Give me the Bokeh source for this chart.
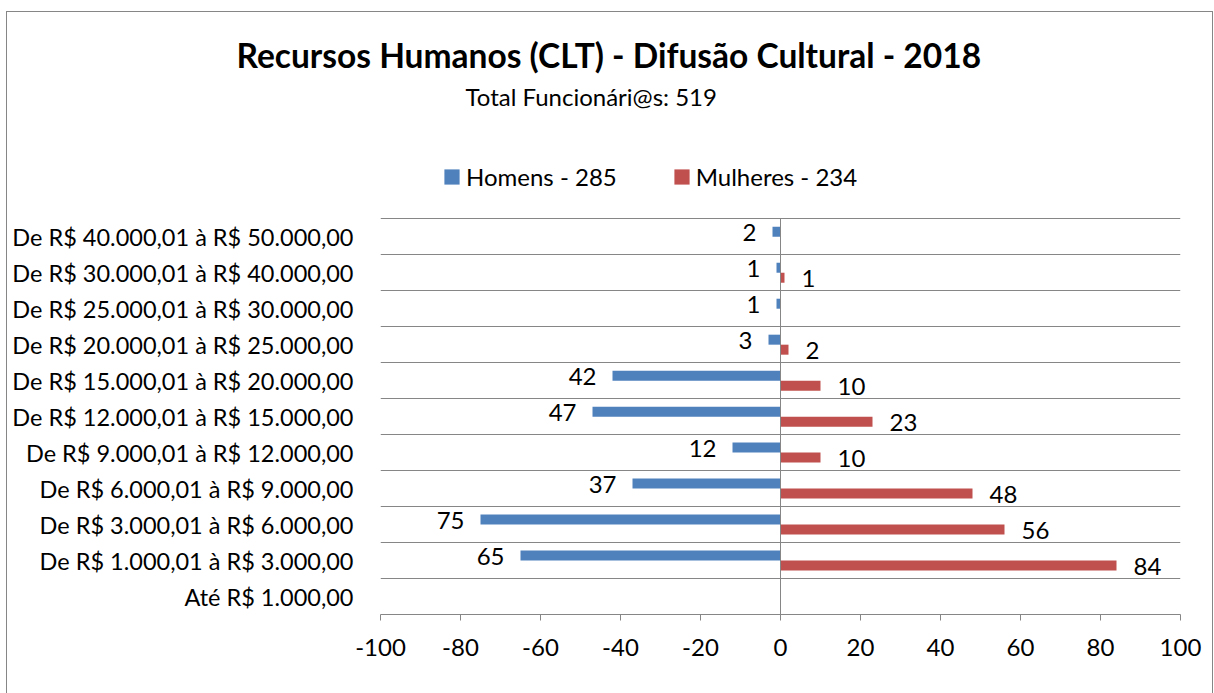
from bokeh.plotting import figure
from bokeh.models import (ColumnDataSource, Range1d, FixedTicker, LabelSet, Label, Title,
                          Legend, LegendItem)
from bokeh.transform import dodge
from bokeh.core.properties import value
from bokeh.embed import file_html
from bokeh.resources import INLINE

# ---------------- data ----------------
title_text = "Recursos Humanos (CLT) - Difusão Cultural - 2018"
subtitle_text = "Total Funcionári@s: 519"
categories = [
    "Até R$ 1.000,00",
    "De R$ 1.000,01 à R$ 3.000,00",
    "De R$ 3.000,01 à R$ 6.000,00",
    "De R$ 6.000,01 à R$ 9.000,00",
    "De R$ 9.000,01 à R$ 12.000,00",
    "De R$ 12.000,01 à R$ 15.000,00",
    "De R$ 15.000,01 à R$ 20.000,00",
    "De R$ 20.000,01 à R$ 25.000,00",
    "De R$ 25.000,01 à R$ 30.000,00",
    "De R$ 30.000,01 à R$ 40.000,00",
    "De R$ 40.000,01 à R$ 50.000,00",
]
homens = [0, 65, 75, 37, 12, 47, 42, 3, 1, 1, 2]
mulheres = [0, 84, 56, 48, 10, 23, 10, 2, 0, 1, 0]
series_names = ["Homens - 285", "Mulheres - 234"]
x_ticks = [-100, -80, -60, -40, -20, 0, 20, 40, 60, 80, 100]

# ---------------- style ----------------
FONT = "Lato"
BLUE = "#4F81BD"
RED = "#C0504D"
GRID = "#868686"
TXT = "24px"
EXTRA_TOP = 4.010      # room (in band units) above the bars for subtitle and legend

n = len(categories)
pos = list(range(n))
src_h = ColumnDataSource(dict(y=pos, x=[-v for v in homens],
                              txt=[str(v) if v else "" for v in homens]))
src_m = ColumnDataSource(dict(y=pos, x=mulheres,
                              txt=[str(v) if v else "" for v in mulheres]))

p = figure(width=1207, height=682,
           x_range=Range1d(-100, 100),
           y_range=Range1d(-0.5, n - 0.5 + EXTRA_TOP),
           output_backend="svg", toolbar_location=None,
           min_border_left=373, min_border_right=34,
           min_border_top=62, min_border_bottom=80)
p.styles = {"margin-left": "6px", "margin-top": "11px",
            "border-left": "1px solid #868686", "border-top": "1px solid #868686",
            "border-right": "1px solid #868686"}
p.outline_line_color = None
p.background_fill_color = "white"
p.border_fill_color = "white"

BH = 0.278
OFF = 0.139
rh = p.hbar(y=dodge("y", OFF), left=0, right="x", height=BH, source=src_h,
            fill_color=BLUE, line_color=None)
rm = p.hbar(y=dodge("y", -OFF), left=0, right="x", height=BH, source=src_m,
            fill_color=RED, line_color=None)

# vertical category axis line at x = 0
p.segment(x0=[0], y0=[-0.5], x1=[0], y1=[n - 0.5], line_color=GRID, line_width=1)

# data labels
p.add_layout(LabelSet(x="x", y=dodge("y", OFF), text="txt", source=src_h,
                      x_offset=-16, y_offset=-1, text_align="right", text_baseline="middle",
                      text_font=value(FONT), text_font_size=TXT, text_color="black"))
p.add_layout(LabelSet(x="x", y=dodge("y", -OFF), text="txt", source=src_m,
                      x_offset=17, y_offset=-1, text_align="left", text_baseline="middle",
                      text_font=value(FONT), text_font_size=TXT, text_color="black"))

# axes
xa = p.xaxis[0]
xa.ticker = FixedTicker(ticks=x_ticks)
xa.major_label_overrides = {t: str(t) for t in x_ticks}
xa.axis_line_color = GRID
xa.major_tick_line_color = GRID
xa.major_tick_out = 6
xa.major_tick_in = 0
xa.minor_tick_line_color = None
xa.major_label_text_font = FONT
xa.major_label_text_font_size = TXT
xa.major_label_text_color = "black"
xa.major_label_standoff = 18

ya = p.yaxis[0]
ya.ticker = FixedTicker(ticks=pos)
ya.major_label_overrides = {i: c for i, c in enumerate(categories)}
ya.axis_line_color = None
ya.major_tick_line_color = None
ya.minor_tick_line_color = None
ya.major_tick_out = 0
ya.major_tick_in = 0
ya.major_label_standoff = 27
ya.major_label_text_font = FONT
ya.major_label_text_font_size = "23.5px"
ya.major_label_text_color = "black"

p.xgrid.visible = False
p.ygrid.ticker = FixedTicker(ticks=[i + 0.5 for i in pos])
p.ygrid.grid_line_color = GRID
p.ygrid.grid_line_width = 1

# legend inside the (extended) frame, above the bars
legend = Legend(items=[LegendItem(label=series_names[0], renderers=[rh]),
                       LegendItem(label=series_names[1], renderers=[rm])],
                location=(62, 423), orientation="horizontal",
                glyph_width=19, glyph_height=19, label_standoff=5, spacing=55,
                padding=0, margin=0, border_line_color=None, background_fill_alpha=0,
                label_text_font=FONT, label_text_font_size=TXT, label_text_color="black")
p.add_layout(legend)

# subtitle (inside the extended frame) and title (panel above the frame)
p.add_layout(Label(x=85, y=518, x_units="screen", y_units="screen", text=subtitle_text,
                   text_align="left", text_baseline="alphabetic", text_font=FONT,
                   text_font_size=TXT, text_color="black"))
p.add_layout(Title(text=title_text, align="left", offset=-144, standoff=0,
                   vertical_align="bottom", text_font=FONT, text_font_size="33.5px",
                   text_font_style="bold", text_color="black"), "above")

open("out.html", "w").write(file_html(p, INLINE))
